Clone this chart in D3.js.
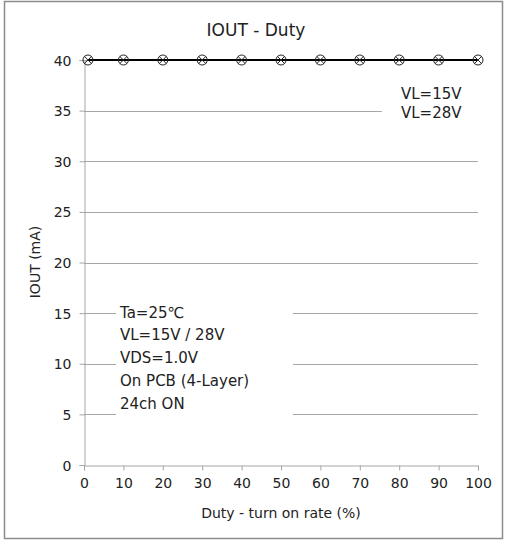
<!DOCTYPE html>
<html>
<head>
<meta charset="utf-8">
<script src="https://cdn.jsdelivr.net/npm/d3@7"></script>
<style>
  body { margin: 0; background: #fff; }
  text { font-family: "DejaVu Sans", Verdana, sans-serif; fill: #222; }
</style>
</head>
<body>
<svg width="505" height="543"></svg>
<script>
const svg = d3.select('svg')

// data
const duty = [1, 10, 20, 30, 40, 50, 60, 70, 80, 90, 100]
const ioutVL15 = [40, 40, 40, 40, 40, 40, 40, 40, 40, 40, 40]
const ioutVL28 = [40, 40, 40, 40, 40, 40, 40, 40, 40, 40, 40]
const xTicks = [0, 10, 20, 30, 40, 50, 60, 70, 80, 90, 100]
const yTicks = [0, 5, 10, 15, 20, 25, 30, 35, 40]
const noteLines = ['Ta=25℃', 'VL=15V / 28V', 'VDS=1.0V', 'On PCB (4-Layer)', '24ch ON']
const legendLines = ['VL=15V', 'VL=28V']

const x = d3.scaleLinear().domain([0, 100]).range([84, 478])
const y = d3.scaleLinear().domain([0, 40]).range([465, 60])

// outer frame
svg.append('rect')
	.attr('x', 4.5).attr('y', 1.5)
	.attr('width', 498).attr('height', 537)
	.attr('fill', '#fff')
	.attr('stroke', '#8c8c8c')
	.attr('stroke-width', 1.5)

// gridlines
svg.append('g')
	.selectAll('line')
	.data(yTicks.filter(d => d > 0))
	.enter()
	.append('line')
	.attr('x1', x(0)).attr('x2', x(100))
	.attr('y1', d => Math.round(y(d)) + 0.5)
	.attr('y2', d => Math.round(y(d)) + 0.5)
	.attr('stroke', '#a6a6a6')

// axes
const xAxis = svg.append('g')
	.attr('transform', `translate(0,${Math.round(y(0)) + 0.5})`)
	.call(d3.axisBottom(x).tickValues(xTicks).tickSize(5).tickPadding(6))
const yAxis = svg.append('g')
	.attr('transform', `translate(${Math.round(x(0)) + 0.5},0)`)
	.call(d3.axisLeft(y).tickValues(yTicks).tickSize(5).tickPadding(8))

;[xAxis, yAxis].forEach(a => {
	a.select('.domain').attr('stroke', '#a6a6a6')
	a.selectAll('.tick line').attr('stroke', '#a6a6a6')
	a.selectAll('.tick text')
		.style('font-family', '"DejaVu Sans", Verdana, sans-serif')
		.style('font-size', '14px')
		.attr('fill', '#222')
})
yAxis.selectAll('.tick text').attr('dy', '0.36em')
xAxis.selectAll('.tick text').attr('dy', '0.85em')

// note box (covers gridlines)
const note = svg.append('g')
note.append('rect')
	.attr('x', 116).attr('y', 298)
	.attr('width', 177).attr('height', 120)
	.attr('fill', '#fff')
note.selectAll('text')
	.data(noteLines)
	.enter()
	.append('text')
	.attr('x', 120)
	.attr('y', (d, i) => 317.5 + i * 22.8)
	.attr('font-size', 15)
	.text(d => d)

// legend box
const legend = svg.append('g')
legend.append('rect')
	.attr('x', 382).attr('y', 80)
	.attr('width', 110).attr('height', 44)
	.attr('fill', '#fff')
legend.selectAll('text')
	.data(legendLines)
	.enter()
	.append('text')
	.attr('x', 401)
	.attr('y', (d, i) => 98.5 + i * 19)
	.attr('font-size', 15)
	.text(d => d)

// series
const line = d3.line().x((d, i) => x(duty[i])).y(d => y(d))
svg.append('path')
	.datum(ioutVL28)
	.attr('d', line)
	.attr('fill', 'none')
	.attr('stroke', '#000')
	.attr('stroke-width', 2)
svg.append('path')
	.datum(ioutVL15)
	.attr('d', line)
	.attr('fill', 'none')
	.attr('stroke', '#000')
	.attr('stroke-width', 2)

// VL=15V markers: cross
svg.append('g')
	.selectAll('path')
	.data(ioutVL15)
	.enter()
	.append('path')
	.attr('transform', (d, i) => `translate(${x(duty[i])},${y(d)})`)
	.attr('d', 'M-3.7,-3.7L3.7,3.7M-3.7,3.7L3.7,-3.7')
	.attr('stroke', '#222')
	.attr('stroke-width', 1)

// VL=28V markers: circle
svg.append('g')
	.selectAll('circle')
	.data(ioutVL28)
	.enter()
	.append('circle')
	.attr('cx', (d, i) => x(duty[i]))
	.attr('cy', d => y(d))
	.attr('r', 5)
	.attr('fill', 'none')
	.attr('stroke', '#222')
	.attr('stroke-width', 1)

// title and axis labels
svg.append('text')
	.attr('x', 256).attr('y', 36)
	.attr('text-anchor', 'middle')
	.attr('font-size', 17)
	.text('IOUT - Duty')

svg.append('text')
	.attr('x', 281).attr('y', 518)
	.attr('text-anchor', 'middle')
	.attr('font-size', 14)
	.text('Duty - turn on rate (%)')

svg.append('text')
	.attr('transform', 'translate(40,262) rotate(-90)')
	.attr('text-anchor', 'middle')
	.attr('font-size', 14)
	.text('IOUT (mA)')
</script>
</body>
</html>
